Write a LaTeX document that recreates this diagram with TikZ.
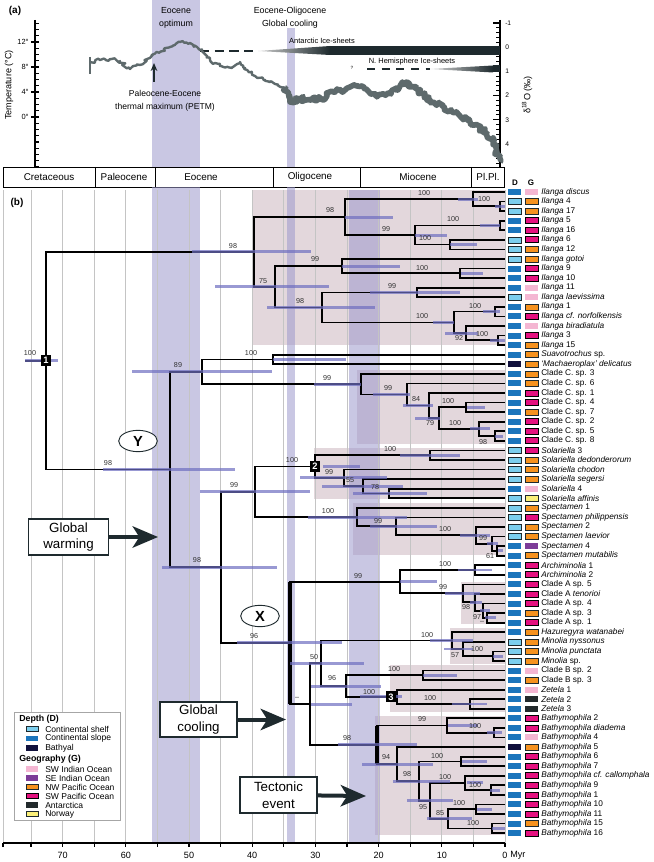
\documentclass[tikz,border=0pt]{standalone}
\usepackage{fontspec}
\setmainfont{Liberation Sans}
\usetikzlibrary{calc,arrows.meta,shapes.geometric,decorations.pathmorphing}

\definecolor{ink}{HTML}{1E2A2E}
\definecolor{cladebg}{HTML}{E3D7DC}
\definecolor{band}{HTML}{9D99CC}
\definecolor{hpdc}{HTML}{6E6EC0}
\definecolor{gridc}{HTML}{C4C4C4}
\definecolor{curvec}{HTML}{5E6A6C}
\definecolor{shelfc}{HTML}{7CCFEE}
\definecolor{slopec}{HTML}{1B75BC}
\definecolor{bathc}{HTML}{10103C}
\definecolor{swic}{HTML}{F4B6D2}
\definecolor{seic}{HTML}{7D3C98}
\definecolor{nwpc}{HTML}{F6921E}
\definecolor{swpc}{HTML}{E4117F}
\definecolor{antc}{HTML}{222A2C}
\definecolor{norc}{HTML}{FBF07A}

\tikzset{
  brline/.style={line width=1.3pt},
  polybr/.style={line width=3.6pt},
  hpd/.style={hpdc, line width=2.2pt, opacity=0.7},
  bs/.style={font=\fontsize{5.4}{6}\selectfont, inner sep=0pt, text=black!80},
  taxon/.style={font=\fontsize{6.2}{7}\selectfont, inner sep=0pt, anchor=west},
  leg/.style={font=\fontsize{6.4}{7}\selectfont, inner sep=0pt, anchor=west},
  axlab/.style={font=\fontsize{5.6}{6}\selectfont, inner sep=0pt},
  shelf/.style={fill=shelfc, draw=ink, line width=0.4pt},
  slope/.style={fill=slopec},
  bath/.style={fill=bathc},
  swi/.style={fill=swic},
  sei/.style={fill=seic},
  nwp/.style={fill=nwpc, draw=ink, line width=0.4pt},
  swp/.style={fill=swpc, draw=black, line width=0.6pt},
  ant/.style={fill=antc},
  nor/.style={fill=norc, draw=ink, line width=0.4pt},
  event/.style={draw=ink, line width=1.1pt, fill=white, align=center,
    font=\fontsize{10}{12.5}\selectfont, inner sep=0pt},
  push/.style={ink, line width=3pt, -{Stealth[length=19pt,width=16pt,inset=5pt]}},
  nodenum/.style={fill=black, text=white, font=\bfseries\fontsize{7}{7}\selectfont,
    minimum width=8pt, minimum height=8.5pt, inner sep=0pt},
  eventletter/.style={ellipse, draw=ink, line width=0.7pt, fill=white, minimum width=29pt,
    minimum height=16pt, inner sep=0pt, font=\bfseries\fontsize{11}{11}\selectfont},
}

% internal node half way between two children, with its elbow branches
\newcommand\clade[4]{%
  \coordinate (#1) at ($(#2,0 |- #3)!.5!(#2,0 |- #4)$);
  \draw[brline] (#3) -| (#1) |- (#4);}

\begin{document}
\begin{tikzpicture}[x=0.75pt, y=-0.75pt]
\useasboundingbox (0,0) rectangle (653,862);

% ---------- (a) climate curve
\fill[band, opacity=0.55] (152,0) rectangle (200,167);
\fill[band, opacity=0.55] (287,28) rectangle (295,167);
\node[font=\bfseries\fontsize{7.5}{8}\selectfont] at (15,11) {(a)};
\node[axlab, align=center, font=\fontsize{6.6}{10}\selectfont] at (176,18) {Eocene\\optimum};
\node[axlab, align=center, font=\fontsize{6.6}{10}\selectfont] at (290,18) {Eocene-Oligocene\\Global cooling};

% temperature scale
\draw[line width=1.3pt] (35,20) -- (35,167);
\foreach \k in {-8,...,15} \draw[line width=0.8pt] (35,{117-6.25*\k}) -- (39,{117-6.25*\k});
\foreach \k in {0,4,8,12} {
  \draw[line width=0.8pt] (31,{117-6.25*\k}) -- (39,{117-6.25*\k});
  \node[axlab, anchor=east] at (29,{117-6.25*\k}) {\k°};
}
\node[axlab, rotate=90, font=\fontsize{6.8}{7}\selectfont] at (9,85) {Temperature (°C)};

% delta 18O scale
\draw[line width=1.3pt] (500,20) -- (500,167);
\foreach \k in {0,...,29} \draw[line width=0.7pt] (496,{23+4.84*\k}) -- (500,{23+4.84*\k});
\foreach \v [count=\k from 0] in {-1,0,1,2,3,4} {
  \draw[line width=0.8pt] (493,{23+24.2*\k}) -- (500,{23+24.2*\k});
  \node[axlab, anchor=west, font=\fontsize{5}{5}\selectfont] at (505,{23+24.2*\k}) {\v};
}
\node[axlab, rotate=90, font=\fontsize{6.8}{7}\selectfont] at (527,95) {δ\textsuperscript{18}O (‰)};

% ice sheets
\draw[ink, line width=1.1pt, dash pattern=on 7pt off 4pt] (200,51) -- (258,51);
\shade[left color=gray!40, right color=ink] (258,51) -- (330,46) -- (330,55) -- cycle;
\fill[ink] (330,46) rectangle (500,55);
\node[axlab] at (322,41) {Antarctic Ice-sheets};
\node[axlab, font=\fontsize{3.5}{4}\selectfont] at (352,68) {?};
\draw[ink, line width=1.1pt, dash pattern=on 6pt off 5pt] (367,69) -- (430,69);
\shade[left color=gray!30, right color=ink] (430,69) -- (493,65.5) -- (493,72.5) -- cycle;
\fill[ink] (493,65.5) rectangle (500,72.5);
\node[axlab] at (412,62) {N. Hemisphere Ice-sheets};

% benthic record
\draw[curvec, line width=1.8pt, line join=round, decorate,
      decoration={random steps, segment length=1.5pt, amplitude=1.4pt}]
  (90,62) -- (100,60) -- (110,59) -- (120,61) -- (130,69) -- (140,65) -- (150,58)
  -- (160,52) -- (170,47) -- (180,42) -- (190,43) -- (200,50) -- (210,60) -- (220,66)
  -- (232,68) -- (240,62) -- (245,68) -- (255,76) -- (265,80) -- (275,84) -- (285,88);
\draw[curvec, line width=4.2pt, line join=round, decorate,
      decoration={random steps, segment length=1.5pt, amplitude=2pt}]
  (285,88) -- (290,102) -- (300,99) -- (320,99) -- (335,92) -- (350,87) -- (362,86)
  -- (375,95) -- (388,93) -- (400,86) -- (407,82) -- (415,88) -- (430,100) -- (445,108)
  -- (460,116) -- (475,125) -- (487,133) -- (495,145) -- (500,162);
\draw[curvec, line width=0.8pt] (90,57) -- (90,74);

% PETM
\coordinate (petmtail) at (154,82);
\coordinate (petmhead) at (154,63);
\draw[ink, line width=1.4pt, -{Stealth[length=6pt,width=5pt]}] (petmtail) -- (petmhead);
\node[axlab, align=center, font=\fontsize{6.4}{9.5}\selectfont] at (165,101)
  {Paleocene-Eocene\\thermal maximum (PETM)};

% ---------- epochs
\draw[line width=0.6pt, fill=white] (3,167) rectangle (504,187);
\foreach \xb in {95,155,273,360,471} \draw[line width=0.6pt] (\xb,167) -- (\xb,187);
\foreach \xc/\ep in {49/Cretaceous, 124/Paleocene, 201/Eocene, 310/Oligocene, 418/Miocene, 488/Pl.Pl.}
  \node[font=\fontsize{7.4}{8}\selectfont] at (\xc,177) {\ep};

% ---------- (b) tree backgrounds
\fill[cladebg] (252,190) rectangle (505,345);
\fill[cladebg] (357,370) rectangle (505,444);
\fill[cladebg] (314,448) rectangle (505,499);
\fill[cladebg] (353,503) rectangle (505,555);
\fill[cladebg] (461,582) rectangle (505,624);
\fill[cladebg] (450,628) rectangle (505,664);
\fill[cladebg] (390,665) rectangle (505,712);
\fill[cladebg] (375,716) rectangle (505,835);
\fill[band, opacity=0.55] (152,187) rectangle (200,843);
\fill[band, opacity=0.55] (287,187) rectangle (295,843);
\fill[band, opacity=0.55] (349,190) rectangle (380,843);
\foreach \t in {0,5,...,75} \draw[gridc, line width=0.5pt] ({505-6.32*\t},190) -- ({505-6.32*\t},843);
\draw[gridc, line width=0.5pt] (3,190) -- (3,843);
\node[font=\bfseries\fontsize{7.5}{8}\selectfont] at (17,203) {(b)};

% tips
\foreach \i in {1,...,68} \coordinate (t\i) at (505,{192+(\i-1)*9.57});

% Ilanga
\clade{i417}{500}{t2}{t3}
\clade{idisc}{473}{t1}{i417}
\clade{i516}{500}{t4}{t5}
\clade{i612}{450}{t6}{t7}
\clade{iC}{415}{i516}{i612}
\clade{iB}{345}{idisc}{iC}
\clade{i910}{460}{t9}{t10}
\clade{iE}{342}{t8}{i910}
\clade{i11l}{417}{t11}{t12}
\clade{i1n}{495}{t13}{t14}
\clade{i315}{498}{t16}{t17}
\clade{iH}{466}{t15}{i315}
\clade{iG}{454}{i1n}{iH}
\clade{iF}{322}{i11l}{iG}
\clade{iD}{275}{iE}{iF}
\clade{iA}{254}{iB}{iD}
% Suavotrochus and clade C
\clade{suav}{273}{t18}{t19}
\clade{c6}{495}{t26}{t27}
\clade{c5}{479}{t25}{c6}
\clade{c4}{466}{t23}{t24}
\clade{c3}{439}{c4}{c5}
\clade{c2}{429}{t22}{c3}
\clade{c1}{407}{t21}{c2}
\clade{c0}{361}{t20}{c1}
\clade{sc}{202}{suav}{c0}
% Solariella
\clade{s0}{430}{t28}{t29}
\clade{s3}{389}{t32}{t33}
\clade{s2}{363}{t31}{s3}
\clade{s1}{344}{t30}{s2}
\clade{sol}{315}{s0}{s1}
% Spectamen
\clade{p4}{497}{t38}{t39}
\clade{p3}{492}{t37}{p4}
\clade{p2}{476}{t36}{p3}
\clade{p1}{396}{t35}{p2}
\clade{p0}{357}{t34}{p1}
\clade{sp}{255}{sol}{p0}
% Archiminolia and clade A
\clade{ar}{475}{t40}{t41}
\clade{a3}{487}{t45}{t46}
\clade{a2}{483}{t44}{a3}
\clade{a1}{475}{t43}{a2}
\clade{a0}{463}{t42}{a1}
\clade{aa}{400}{ar}{a0}
% Hazuregyra, Minolia, clade B, Zetela
\clade{m2}{493}{t49}{t50}
\clade{m1}{463}{t48}{m2}
\clade{m0}{452}{t47}{m1}
\clade{cb}{423}{t51}{t52}
\clade{z23}{470}{t54}{t55}
\clade{z}{397}{t53}{z23}
\clade{bz}{346}{cb}{z}
\clade{mb}{321}{m0}{bz}
% Bathymophila
\clade{b4}{494}{t57}{t58}
\clade{b2}{447}{t56}{b4}
\clade{b67}{461}{t60}{t61}
\clade{b91}{491}{t63}{t64}
\clade{bcal}{465}{t62}{b91}
\clade{b1011}{476}{t65}{t66}
\clade{b1516}{492}{t67}{t68}
\clade{b85}{448}{b1011}{b1516}
\clade{b95}{430}{bcal}{b85}
\clade{b98}{419}{b67}{b95}
\clade{b94}{397}{t59}{b98}
\clade{bath}{377}{b2}{b94}
\clade{lw}{310}{mb}{bath}
% backbone
\clade{X}{290}{aa}{lw}
\clade{xs}{221}{sp}{X}
\clade{ys}{170}{sc}{xs}
\clade{root}{46}{iA}{ys}
\coordinate (stem) at (25,0 |- root);
\draw[brline] (stem) -- (root);
\draw[polybr] (aa -| X) -- (lw -| X);
\draw[polybr] (b2 -| bath) -- (b94 -| bath);

% node age intervals
\foreach \n/\a/\b in {root/25/58, iA/192/311, iB/345/393, iD/215/329, iC/415/447, idisc/458/478,
    i417/495/505, i516/480/500, i612/450/477, iE/342/400, i910/461/483, iF/267/375, i11l/370/460,
    iG/433/454, i1n/483/500, iH/445/478, i315/490/505, ys/103/235, sc/132/272, suav/273/346,
    c0/314/361, c1/373/410, c2/403/433, c3/415/440, c4/467/485, c5/470/490, c6/495/503,
    xs/162/277, sp/200/310, sol/323/360, s0/400/460, s1/300/387, s2/322/403, s3/353/427,
    p0/308/407, p1/370/437, p2/460/490, p3/487/498, p4/498/503, X/237/342, aa/400/437,
    ar/458/492, a0/445/480, a1/470/482, a2/480/490, a3/485/496, lw/311/352, mb/290/364,
    bz/311/381, m0/430/473, m1/444/473, m2/493/503, cb/423/457, z/360/402, z23/452/487,
    bath/338/417, b2/448/478, b4/487/502, b94/362/433, b67/462/487, b98/393/450, bcal/467/483,
    b91/490/500, b95/407/453, b85/427/472, b1011/477/492, b1516/492/505}
  \draw[hpd] (\a,0 |- \n) -- (\b,0 |- \n);

% support values
\foreach \x/\y/\v in {30/353/100, 233/246/98, 330/210/98, 424/193/100, 484/199/100, 386/229/99,
    453/219/100, 425/238/100, 263/281/75, 315/259/99, 422/268/100, 300/301/98, 392/286/99,
    422/316/100, 475/306/100, 459/338/92, 482/334/100, 108/463/98, 178/365/89, 251/353/100,
    327/378/99, 388/388/99, 416/399/84, 430/423/79, 448/401/100, 455/423/100, 483/442/98,
    197/560/98, 234/485/99, 292/460/100, 390/449/100, 329/472/99, 350/480/55, 375/487/78,
    328/511/100, 378/521/99, 445/529/100, 483/538/99, 490/556/61, 254/636/96, 358/576/99,
    445/564/100, 443/587/99, 466/607/98, 477/617/97, 314/657/50, 427/635/100, 455/655/57,
    477/649/100, 332/678/96, 394/669/100, 369/692/100, 430/698/100, 347/738/98, 422/719/99,
    475/726/100, 386/757/94, 437/756/100, 407/774/98, 445/777/100, 475/785/100, 423/807/95,
    440/813/85, 459/803/100, 473/823/100}
  \node[bs] at (\x,\y) {\v};
\node[bs] at (297,698) {–};
\node[bs] at (482,622) {–};

% numbered nodes and clade letters
\node[nodenum] at (root) {1};
\node[nodenum] at (sol) {2};
\node[nodenum] at ([shift={(-6,0)}]z) {3};
\node[eventletter] (Ylab) at (138,441) {Y};
\node[eventletter] (Xlab) at (260,616) {X};

% tip swatches and names
\node[font=\bfseries\fontsize{6}{6}\selectfont] at (515,183) {D};
\node[font=\bfseries\fontsize{6}{6}\selectfont] at (531,183) {G};
\foreach \d/\g/\lab [count=\i] in {
  slope/swi/{\textit{Ilanga discus}}, shelf/nwp/{\textit{Ilanga} 4}, shelf/nwp/{\textit{Ilanga} 17},
  slope/swp/{\textit{Ilanga} 5}, slope/swp/{\textit{Ilanga} 16}, shelf/swp/{\textit{Ilanga} 6},
  shelf/nwp/{\textit{Ilanga} 12}, shelf/nwp/{\textit{Ilanga gotoi}}, slope/swp/{\textit{Ilanga} 9},
  slope/swp/{\textit{Ilanga} 10}, slope/swi/{\textit{Ilanga} 11}, shelf/swi/{\textit{Ilanga laevissima}},
  slope/nwp/{\textit{Ilanga} 1}, slope/swp/{\textit{Ilanga cf. norfolkensis}},
  slope/swi/{\textit{Ilanga biradiatula}}, slope/swp/{\textit{Ilanga} 3}, slope/nwp/{\textit{Ilanga} 15},
  slope/nwp/{\textit{Suavotrochus} sp.}, bath/nwp/{\textit{`Machaeroplax' delicatus}},
  slope/nwp/{Clade C. sp. 3}, slope/nwp/{Clade C. sp. 6}, slope/swp/{Clade C. sp. 1},
  slope/swp/{Clade C. sp. 4}, slope/nwp/{Clade C. sp. 7}, slope/swp/{Clade C. sp. 2},
  slope/swp/{Clade C. sp. 5}, slope/swp/{Clade C. sp. 8}, shelf/swp/{\textit{Solariella} 3},
  shelf/nwp/{\textit{Solariella dedonderorum}}, shelf/nwp/{\textit{Solariella chodon}},
  shelf/nwp/{\textit{Solariella segersi}}, slope/swi/{\textit{Solariella} 4},
  shelf/nor/{\textit{Solariella affinis}}, shelf/nwp/{\textit{Spectamen} 1},
  shelf/swp/{\textit{Spectamen philippensis}}, shelf/nwp/{\textit{Spectamen} 2},
  shelf/nwp/{\textit{Spectamen laevior}}, slope/sei/{\textit{Spectamen} 4},
  slope/nwp/{\textit{Spectamen mutabilis}}, slope/swp/{\textit{Archiminolia} 1},
  slope/swp/{\textit{Archiminolia} 2}, slope/swp/{Clade A sp. 5}, slope/swp/{Clade A \textit{tenorioi}},
  slope/swp/{Clade A sp. 4}, slope/nwp/{Clade A sp. 3}, slope/swp/{Clade A sp. 1},
  slope/nwp/{\textit{Hazuregyra watanabei}}, shelf/nwp/{\textit{Minolia nyssonus}},
  shelf/nwp/{\textit{Minolia punctata}}, shelf/nwp/{\textit{Minolia} sp.},
  slope/swi/{Clade B sp. 2}, slope/nwp/{Clade B sp. 3}, slope/swi/{\textit{Zetela} 1},
  slope/ant/{\textit{Zetela} 2}, slope/ant/{\textit{Zetela} 3}, slope/swp/{\textit{Bathymophila} 2},
  slope/swp/{\textit{Bathymophila diadema}}, slope/swi/{\textit{Bathymophila} 4},
  bath/nwp/{\textit{Bathymophila} 5}, slope/swp/{\textit{Bathymophila} 6},
  slope/swp/{\textit{Bathymophila} 7}, slope/swp/{\textit{Bathymophila cf. callomphala}},
  slope/swp/{\textit{Bathymophila} 9}, slope/swp/{\textit{Bathymophila} 1},
  slope/swp/{\textit{Bathymophila} 10}, slope/swp/{\textit{Bathymophila} 11},
  slope/nwp/{\textit{Bathymophila} 15}, slope/swp/{\textit{Bathymophila} 16}} {
  \path[\d] ([shift={(3,-3)}]t\i) rectangle ([shift={(16,3)}]t\i);
  \path[\g] ([shift={(20,-3)}]t\i) rectangle ([shift={(33,3)}]t\i);
  \node[taxon] at ([shift={(36,0)}]t\i) {\lab};
}

% time axis
\draw[line width=0.8pt] (3,843) -- (505,843);
\foreach \t in {0,5,...,75} \draw[line width=0.8pt] ({505-6.32*\t},843) -- ({505-6.32*\t},847);
\draw[line width=0.8pt] (3,843) -- (3,847);
\foreach \t in {10,20,...,70} \node[axlab, font=\fontsize{6.8}{7}\selectfont] at ({505-6.32*\t},855) {\t};
\node[axlab, font=\fontsize{6.8}{7}\selectfont] at (505,855) {0};
\node[axlab, anchor=west, font=\fontsize{6.8}{7}\selectfont] at (510,855) {Myr};

% legend
\draw[gray!70, fill=white, line width=0.5pt] (14,712) rectangle (120,820);
\node[leg, font=\bfseries\fontsize{6.6}{7}\selectfont] at (19,719) {Depth (D)};
\node[leg, font=\bfseries\fontsize{6.6}{7}\selectfont] at (19,759) {Geography (G)};
\foreach \c/\t/\y in {shelf/Continental shelf/729, slope/Continental slope/738.5, bath/Bathyal/748,
    swi/SW Indian Ocean/769, sei/SE Indian Ocean/778, nwp/NW Pacific Ocean/787,
    swp/SW Pacific Ocean/796, ant/Antarctica/805, nor/Norway/814} {
  \path[\c] (26,{\y-2.6}) rectangle (38,{\y+2.6});
  \node[leg] at (45,\y) {\t};
}

% events
\node[event, minimum width=60pt, minimum height=27pt] (warm) at (68.5,537) {Global\\warming};
\node[event, minimum width=57.5pt, minimum height=26pt] (cool) at (198.5,719.5) {Global\\cooling};
\node[event, minimum width=57.5pt, minimum height=27pt] (tect) at (278.5,795) {Tectonic\\event};
\coordinate (warmtip) at (158,537);
\coordinate (cooltip) at (286,719.5);
\coordinate (tecttip) at (366,796);
\draw[push] (warm) -- (warmtip);
\draw[push] (cool) -- (cooltip);
\draw[push] (tect) -- (tecttip);
\end{tikzpicture}
\end{document}
